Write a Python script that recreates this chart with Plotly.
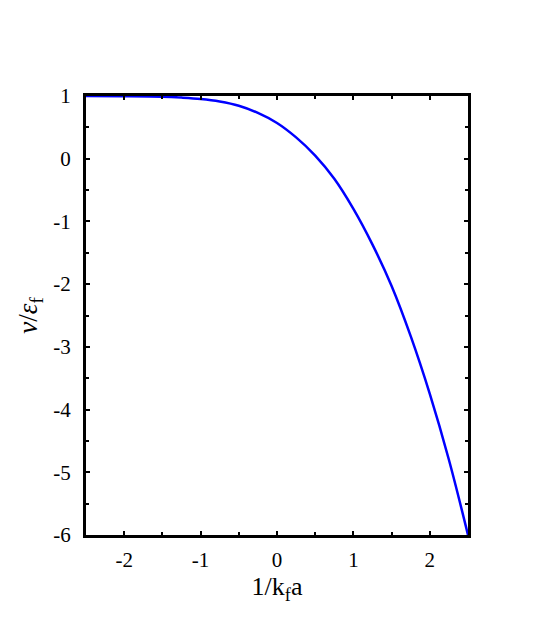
import plotly.graph_objects as go

# Chemical potential across the crossover
inv_kfa = [-2.5, -2.0, -1.5, -1.25, -1.0, -0.75, -0.5, -0.25, 0.0, 0.25, 0.5, 0.75,
           1.0, 1.25, 1.5, 1.75, 2.0, 2.25, 2.5]
mu_over_ef = [1.0, 0.998, 0.99, 0.975, 0.952, 0.912, 0.845, 0.73, 0.57, 0.34, 0.05, -0.32,
              -0.8, -1.37, -2.03, -2.83, -3.75, -4.8, -6.0]

x_ticks = [-2, -1, 0, 1, 2]
y_ticks = [1, 0, -1, -2, -3, -4, -5, -6]

FONT = "Liberation Serif"
TICK_FONT = dict(family=FONT, size=21, color="black")

fig = go.Figure()
fig.add_trace(go.Scatter(
    x=inv_kfa,
    y=mu_over_ef,
    mode="lines",
    line=dict(color="#0000ff", width=2.5, shape="spline", smoothing=1.0),
    showlegend=False,
))


def axis(**kw):
    base = dict(
        showline=True,
        linecolor="black",
        linewidth=3,
        mirror="ticks",
        ticks="inside",
        ticklen=4,
        tickwidth=2,
        tickcolor="black",
        showgrid=False,
        zeroline=False,
        tickfont=TICK_FONT,
        minor=dict(ticks="inside", ticklen=3, tickwidth=1.5, tickcolor="black",
                   dtick=0.5, showgrid=False),
    )
    base.update(kw)
    return base


fig.update_layout(
    width=553,
    height=632,
    margin=dict(l=78, r=93, t=88, b=105),
    font=dict(family=FONT, size=21, color="black"),
    plot_bgcolor="white",
    paper_bgcolor="white",
    xaxis=axis(
        range=[-2.5, 2.5],
        tickmode="array",
        tickvals=x_ticks,
        ticktext=[str(v) for v in x_ticks],
        ticklabelstandoff=4,
        title=dict(text="1/k<sub>f</sub>a", font=dict(family=FONT, size=26, color="black"), standoff=4),
    ),
    yaxis=axis(
        range=[-6, 1],
        tickmode="array",
        tickvals=y_ticks,
        ticktext=[str(v) for v in y_ticks],
        ticklabelstandoff=8,
        title=dict(text="<i>ν</i>/<i>ε</i><sub>f</sub>", font=dict(family=FONT, size=27, color="black"), standoff=8),
    ),
)

fig.write_html("out.html")
